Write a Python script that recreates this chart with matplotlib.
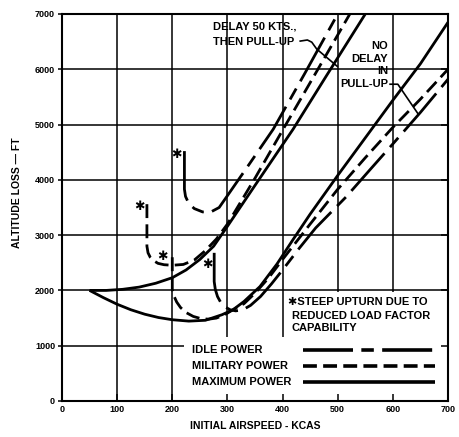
import matplotlib
matplotlib.use("Agg")
import matplotlib.pyplot as plt
from matplotlib.patches import Rectangle

plt.rcParams['font.family'] = ['Liberation Sans', 'DejaVu Sans']
plt.rcParams['lines.scale_dashes'] = False

# ---------------- data ----------------
x_ticks = [0, 100, 200, 300, 400, 500, 600, 700]
y_ticks = [0, 1000, 2000, 3000, 4000, 5000, 6000, 7000]

# Delay 50 kts, then pull-up
delay_max_kcas = [50, 80, 110, 140, 170, 200, 225, 250, 275, 300, 350, 419, 480, 550]
delay_max_ft = [2000, 2000, 2020, 2060, 2130, 2230, 2370, 2560, 2800, 3160, 3900, 4915, 5890, 7000]

delay_mil_kcas = [154, 154, 156, 160, 166, 174, 185, 200, 220, 240, 260, 280, 300, 350, 401, 460, 522]
delay_mil_ft = [3560, 2800, 2680, 2600, 2540, 2490, 2465, 2455, 2470, 2550, 2720, 2930, 3200, 4030, 4915, 5930, 7000]

delay_idle_kcas = [222, 222, 224, 230, 240, 255, 270, 285, 299, 340, 383, 440, 500]
delay_idle_ft = [4520, 3830, 3700, 3570, 3480, 3420, 3420, 3500, 3700, 4290, 4915, 5920, 7000]

# No delay in pull-up
nodelay_max_kcas = [50, 75, 100, 125, 150, 175, 200, 230, 260, 290, 310, 330, 359, 390, 419, 450, 475, 500, 550, 600, 650, 700]
nodelay_max_ft = [2000, 1870, 1750, 1650, 1570, 1510, 1470, 1445, 1460, 1560, 1650, 1800, 2070, 2480, 2920, 3380, 3730, 4080, 4760, 5440, 6100, 6850]

nodelay_mil_kcas = [200, 200, 203, 208, 215, 225, 238, 252, 266, 280, 295, 310, 330, 350, 375, 400, 450, 500, 550, 600, 650, 700]
nodelay_mil_ft = [2600, 2020, 1900, 1790, 1690, 1600, 1530, 1490, 1480, 1500, 1560, 1650, 1760, 1950, 2230, 2560, 3200, 3830, 4400, 4950, 5460, 6000]

nodelay_idle_kcas = [276, 276, 278, 282, 288, 296, 305, 315, 328, 342, 360, 380, 400, 430, 460, 515, 560, 600, 650, 700]
nodelay_idle_ft = [2680, 2160, 2020, 1890, 1780, 1700, 1650, 1630, 1650, 1730, 1890, 2120, 2370, 2760, 3130, 3690, 4200, 4650, 5220, 5820]

# steep-upturn markers (kcas, ft)
star_kcas = [208, 141, 183, 263]
star_ft = [4460, 3520, 2610, 2470]

legend_labels = ['IDLE POWER', 'MILITARY POWER', 'MAXIMUM POWER']

# ---------------- styles ----------------
IDLE = (0, (36, 6, 9, 6))
MIL = (0, (10, 4.5))
SOLID = '-'
LW = 2.0
K = 'black'

fig = plt.figure(figsize=(4.6, 4.37), dpi=100)
ax = fig.add_axes([62/460, 36/437, 386/460, 387/437])
ax.set_xlim(0, 700)
ax.set_ylim(0, 7000)

# grid (drawn manually so that a few regions can be blanked)
for xv in x_ticks[1:-1]:
    ax.axvline(xv, color=K, lw=1.1, zorder=0.5)
for yv in y_ticks[1:-1]:
    ax.axhline(yv, color=K, lw=1.1, zorder=0.5)
# blank regions for legend and note
ax.add_patch(Rectangle((222, 0), 478, 1150, facecolor='white', edgecolor='none', zorder=1))
ax.add_patch(Rectangle((405, 1150), 295, 820, facecolor='white', edgecolor='none', zorder=1))

def curve(x, y, ls):
    ax.plot(x, y, color=K, lw=LW, linestyle=ls, solid_capstyle='butt',
            dash_capstyle='butt', zorder=3, clip_on=True)

curve(delay_max_kcas, delay_max_ft, SOLID)
curve(delay_mil_kcas, delay_mil_ft, MIL)
curve(delay_idle_kcas, delay_idle_ft, IDLE)
curve(nodelay_max_kcas, nodelay_max_ft, SOLID)
curve(nodelay_mil_kcas, nodelay_mil_ft, MIL)
curve(nodelay_idle_kcas, nodelay_idle_ft, IDLE)

for sx, sy in zip(star_kcas, star_ft):
    ax.text(sx, sy, '\u2731', family='DejaVu Sans', fontsize=9, fontweight='bold',
            ha='center', va='center', zorder=4)

# text annotations
tf = dict(fontsize=8, color=K, fontweight='bold', zorder=4)
ax.text(350, 6765, 'DELAY 50 KTS.,', ha='center', va='center', **tf)
ax.text(348, 6490, 'THEN PULL-UP', ha='center', va='center', **tf)
ax.plot([432, 445, 453, 462, 499], [6510, 6530, 6490, 6365, 6055], color=K, lw=1.2, zorder=4)

for txt, yy in zip(['NO', 'DELAY', 'IN', 'PULL-UP'], [6420, 6185, 5965, 5730]):
    ax.text(591, yy, txt, ha='right', va='center', **tf)
ax.plot([595, 609, 646], [5730, 5730, 5190], color=K, lw=1.2, zorder=4)

ax.text(410, 1795, '\u2731STEEP UPTURN DUE TO', ha='left', va='center',
        family=['Liberation Sans', 'DejaVu Sans'], **tf)
ax.text(417, 1540, 'REDUCED LOAD FACTOR', ha='left', va='center', **tf)
ax.text(417, 1325, 'CAPABILITY', ha='left', va='center', **tf)

# legend (manual)
for lab, yy, ls in zip(legend_labels, [925, 635, 345], [IDLE, MIL, SOLID]):
    ax.text(236, yy, lab, ha='left', va='center', **tf)
    ax.plot([437, 676], [yy, yy], color=K, lw=2.6, linestyle=ls,
            solid_capstyle='butt', dash_capstyle='butt', zorder=3)

# axes styling
ax.set_xticks(x_ticks)
ax.set_yticks(y_ticks)
ax.tick_params(axis='x', direction='in', length=5, width=1.1, labelsize=6.5, pad=3, top=False)
ax.tick_params(axis='y', direction='out', length=3, width=1.1, labelsize=6.5, pad=2, right=True)
for lab in ax.get_xticklabels() + ax.get_yticklabels():
    lab.set_fontweight('bold')
for t in ax.yaxis.get_major_ticks():
    t.tick2line.set_markersize(5)
    t.tick2line.set_marker(matplotlib.lines.TICKLEFT)
for sp in ax.spines.values():
    sp.set_linewidth(1.5)

ax.set_xlabel('INITIAL AIRSPEED - KCAS', fontsize=7.5, fontweight='bold', labelpad=5)
ax.set_ylabel('ALTITUDE LOSS \u2014 FT', fontsize=7.5, fontweight='bold')
ax.yaxis.set_label_coords(-0.104, 0.537)

fig.savefig('out.png', dpi=100, facecolor='white')
